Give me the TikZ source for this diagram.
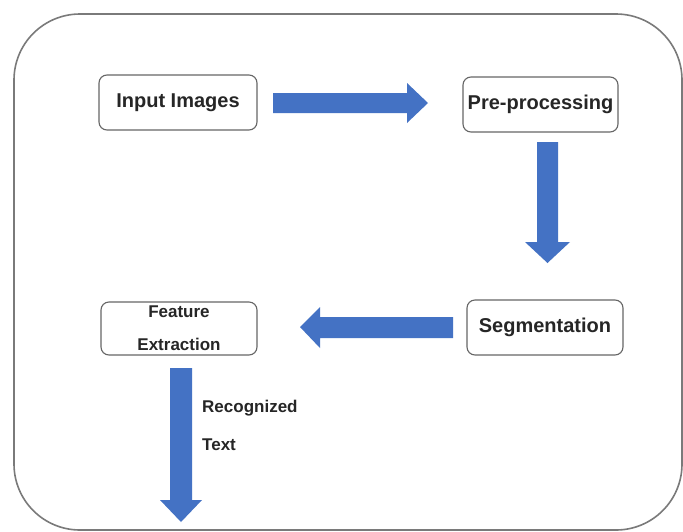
\documentclass[tikz,border=0pt]{standalone}
\usepackage{fontspec}
\setmainfont{Liberation Sans}
\begin{document}
\begin{tikzpicture}[x=1pt,y=-1pt,
  stepbox/.style={draw=boxgray, line width=1.1pt, rounded corners=8pt, fill=white,
    inner sep=0pt, align=center, text=textdark,
    font=\fontsize{20}{24}\selectfont\bfseries},
  smallbox/.style={stepbox, font=\fontsize{17}{33}\selectfont\bfseries},
  note/.style={anchor=west, inner sep=0pt, text=textdark,
    font=\fontsize{17}{20}\selectfont\bfseries},
  blockarrow/.style={fill=arrowblue, draw=none}]
  \definecolor{arrowblue}{HTML}{4472C4}
  \definecolor{boxgray}{HTML}{666666}
  \definecolor{framegray}{HTML}{7A7A7A}
  \definecolor{textdark}{HTML}{262626}

  \useasboundingbox (0,0) rectangle (683,531);
  \fill[white] (0,0) rectangle (683,531);

  % outer frame
  \draw[framegray, line width=1.6pt, rounded corners=66pt] (14,14) rectangle (682,530);

  % process steps
  \node[stepbox, minimum width=158, minimum height=55] (input) at (178,102.5) {Input Images};
  \node[stepbox, minimum width=155, minimum height=55] (pre) at (540.5,104.5) {Pre-processing};
  \node[stepbox, minimum width=156, minimum height=55] (seg) at (545,327.5) {Segmentation};
  \node[smallbox, minimum width=156, minimum height=53] (feat) at (179,328.5) {Feature\\Extraction};

  % output label
  \node[note] (rec) at (202,408) {Recognized};
  \node[note] (txt) at (202,445) {Text};

  % block arrows between the steps
  \fill[blockarrow] (273,93) -- (407,93) -- (407,83) -- (428,103) -- (407,123) -- (407,113) -- (273,113) -- cycle;
  \fill[blockarrow] (537,142) -- (558,142) -- (558,242) -- (570,242) -- (547.5,263) -- (525,242) -- (537,242) -- cycle;
  \fill[blockarrow] (453,317) -- (320,317) -- (320,307) -- (300,327) -- (320,348) -- (320,338) -- (453,338) -- cycle;
  \fill[blockarrow] (170,368) -- (192,368) -- (192,500) -- (202,500) -- (181,522) -- (160,500) -- (170,500) -- cycle;
\end{tikzpicture}
\end{document}
